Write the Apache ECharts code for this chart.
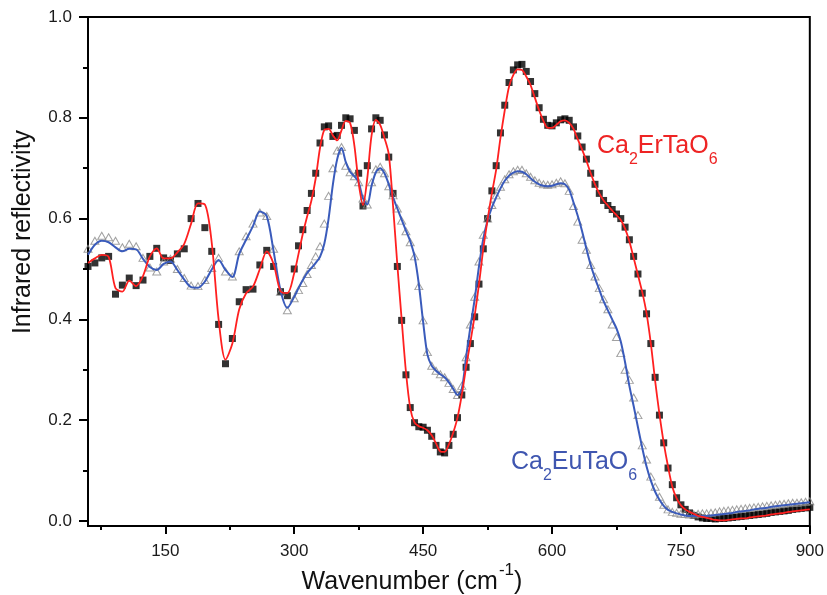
<!DOCTYPE html>
<html><head><meta charset="utf-8">
<script src="https://cdn.jsdelivr.net/npm/echarts@6/dist/echarts.min.js"></script>
<style>html,body{margin:0;padding:0;background:#fff}#c{width:827px;height:595px}</style>
</head><body><div id="c"></div>
<script>
// wavenumber grid (cm-1)
const wn = [
60,68,76,84,92,100,108,116,124,132,
140,148,156,164,172,180,188,196,204,212,
220,228,236,244,252,260,268,276,284,292,
300,305,310,315,320,325,330,335,340,345,350,355,360,365,370,375,380,385,390,395,
400,405,410,415,420,425,430,435,440,445,450,455,460,465,470,475,480,485,490,495,
500,505,510,515,520,525,530,535,540,545,550,555,560,565,570,575,580,585,590,595,
600,605,610,615,620,625,630,635,640,645,650,655,660,665,670,675,680,685,690,695,
700,705,710,715,720,725,730,735,740,745,750,755,760,765,770,775,780,785,790,795,
800,805,810,815,820,825,830,835,840,845,850,855,860,865,870,875,880,885,890,895,
900];

// Ca2ErTaO6 measured (squares)
const erMark = [
0.505,0.512,0.522,0.525,0.450,0.468,0.482,0.467,0.478,0.525,
0.541,0.522,0.517,0.530,0.540,0.600,0.630,0.582,0.535,0.390,
0.312,0.362,0.435,0.459,0.460,0.508,0.537,0.505,0.455,0.447,
0.500,0.546,0.578,0.616,0.650,0.690,0.750,0.782,0.784,0.763,0.765,0.785,0.800,0.798,0.775,0.690,0.625,0.705,0.778,0.800,
0.795,0.766,0.722,0.650,0.505,0.398,0.290,0.225,0.195,0.187,0.186,0.180,0.168,0.150,0.137,0.135,0.150,0.172,0.205,0.250,
0.305,0.352,0.405,0.470,0.540,0.600,0.655,0.705,0.770,0.825,0.870,0.895,0.905,0.906,0.892,0.872,0.848,0.820,0.797,0.785,
0.784,0.790,0.796,0.798,0.795,0.782,0.764,0.742,0.718,0.690,0.668,0.650,0.636,0.626,0.618,0.609,0.600,0.583,0.558,0.525,
0.490,0.452,0.411,0.352,0.285,0.210,0.155,0.105,0.072,0.046,0.032,0.023,0.016,0.011,0.008,0.006,0.005,0.005,0.004,0.005,
0.005,0.006,0.007,0.008,0.009,0.010,0.011,0.012,0.013,0.014,0.015,0.017,0.018,0.019,0.020,0.021,0.023,0.024,0.025,0.026,
0.027];

// Ca2ErTaO6 fit (red line)
const erFit = [
0.512,0.521,0.528,0.524,0.462,0.455,0.477,0.466,0.486,0.525,
0.541,0.521,0.521,0.533,0.550,0.590,0.630,0.628,0.552,0.400,
0.320,0.352,0.420,0.452,0.465,0.500,0.535,0.510,0.456,0.452,
0.492,0.530,0.570,0.604,0.636,0.680,0.740,0.776,0.778,0.765,0.755,0.775,0.794,0.790,0.745,0.670,0.627,0.680,0.765,0.796,
0.786,0.760,0.728,0.625,0.508,0.400,0.296,0.224,0.195,0.188,0.185,0.180,0.170,0.154,0.138,0.137,0.152,0.175,0.205,0.250,
0.305,0.355,0.408,0.470,0.540,0.598,0.650,0.697,0.760,0.815,0.862,0.885,0.896,0.895,0.882,0.865,0.840,0.815,0.794,0.780,
0.780,0.786,0.793,0.795,0.790,0.778,0.757,0.737,0.715,0.690,0.668,0.650,0.636,0.626,0.616,0.607,0.597,0.580,0.555,0.522,
0.488,0.454,0.412,0.352,0.278,0.212,0.155,0.108,0.068,0.045,0.031,0.023,0.018,0.014,0.010,0.008,0.006,0.004,0.002,0.001,
0.001,0.002,0.003,0.004,0.005,0.005,0.007,0.008,0.009,0.010,0.011,0.013,0.014,0.015,0.016,0.018,0.019,0.020,0.021,0.022,
0.023];

// Ca2EuTaO6 measured (triangles)
const euMark = [
0.540,0.556,0.566,0.563,0.556,0.543,0.550,0.545,0.522,0.503,
0.495,0.515,0.520,0.500,0.482,0.467,0.466,0.478,0.502,0.522,
0.495,0.485,0.535,0.565,0.590,0.612,0.605,0.540,0.455,0.418,
0.442,0.458,0.472,0.490,0.508,0.525,0.545,0.590,0.645,0.700,0.735,0.742,0.705,0.692,0.684,0.672,0.640,0.628,0.672,0.698,
0.703,0.690,0.664,0.646,0.620,0.596,0.575,0.553,0.525,0.466,0.398,0.335,0.308,0.298,0.291,0.285,0.274,0.262,0.250,0.268,
0.325,0.390,0.445,0.515,0.568,0.600,0.627,0.646,0.663,0.678,0.688,0.694,0.697,0.697,0.690,0.683,0.676,0.671,0.668,0.667,
0.668,0.671,0.674,0.670,0.655,0.625,0.594,0.558,0.538,0.508,0.485,0.462,0.440,0.420,0.390,0.365,0.333,0.300,0.280,0.245,
0.210,0.150,0.122,0.088,0.068,0.048,0.032,0.023,0.018,0.016,0.014,0.014,0.013,0.013,0.014,0.015,0.015,0.016,0.017,0.019,
0.020,0.021,0.022,0.023,0.024,0.025,0.026,0.027,0.028,0.029,0.030,0.031,0.032,0.033,0.034,0.035,0.036,0.036,0.037,0.038,
0.039];

// Ca2EuTaO6 fit (blue line)
const euFit = [
0.528,0.548,0.556,0.553,0.543,0.535,0.540,0.539,0.520,0.504,
0.498,0.510,0.515,0.498,0.479,0.464,0.463,0.475,0.499,0.518,
0.498,0.484,0.530,0.558,0.585,0.614,0.605,0.535,0.458,0.423,
0.445,0.462,0.478,0.492,0.502,0.512,0.524,0.550,0.600,0.668,0.718,0.740,0.712,0.693,0.684,0.672,0.640,0.628,0.665,0.692,
0.700,0.690,0.668,0.642,0.620,0.598,0.576,0.555,0.525,0.470,0.395,0.330,0.308,0.298,0.291,0.285,0.275,0.262,0.250,0.262,
0.325,0.385,0.440,0.505,0.560,0.596,0.622,0.642,0.660,0.675,0.685,0.691,0.694,0.693,0.688,0.680,0.673,0.668,0.665,0.664,
0.665,0.668,0.670,0.668,0.657,0.632,0.605,0.575,0.540,0.508,0.482,0.459,0.436,0.418,0.400,0.382,0.356,0.315,0.268,0.228,
0.186,0.145,0.108,0.080,0.058,0.042,0.030,0.022,0.018,0.015,0.013,0.011,0.010,0.010,0.010,0.010,0.010,0.011,0.012,0.013,
0.014,0.015,0.016,0.018,0.019,0.020,0.021,0.023,0.024,0.025,0.026,0.028,0.029,0.030,0.031,0.032,0.033,0.034,0.035,0.036,
0.037];

// ticks
const xMajor = [150, 300, 450, 600, 750, 900];
const xMinor = [75, 225, 375, 525, 675, 825];
const yMajor = [0.0, 0.2, 0.4, 0.6, 0.8, 1.0];
const yMinor = [0.1, 0.3, 0.5, 0.7, 0.9];

const xTitle = 'Wavenumber (cm';
const xTitleSup = '-1';
const yTitle = 'Infrared reflectivity';

const FONT = '"Liberation Sans", Arial, sans-serif';
const pairs = (ys) => wn.map((x, i) => [x, ys[i]]);

const chart = echarts.init(document.getElementById('c'), null, {renderer: 'canvas'});
chart.setOption({
  animation: false,
  backgroundColor: '#fff',
  grid: {left: 88, right: 16, top: 17, bottom: 69, show: true, borderColor: '#000', borderWidth: 2, backgroundColor: 'transparent'},
  xAxis: [
    {type: 'value', min: 60, max: 900, position: 'bottom', splitLine: {show: false},
     axisLine: {show: true, onZero: false, lineStyle: {color: '#000', width: 2}},
     axisTick: {show: true, customValues: xMajor, length: 8, lineStyle: {color: '#000', width: 2}},
     axisLabel: {customValues: xMajor, margin: 17, fontSize: 17, fontFamily: FONT, color: '#1a1a1a', formatter: v => String(v)}},
    {type: 'value', min: 60, max: 900, position: 'bottom', splitLine: {show: false},
     axisLine: {show: false, onZero: false},
     axisTick: {show: true, customValues: xMinor, length: 4, lineStyle: {color: '#000', width: 2}},
     axisLabel: {show: false}}
  ],
  yAxis: [
    {type: 'value', min: -0.01, max: 1.0, position: 'left', splitLine: {show: false},
     axisLine: {show: true, onZero: false, lineStyle: {color: '#000', width: 2}},
     axisTick: {show: true, customValues: yMajor, length: 9, lineStyle: {color: '#000', width: 2}},
     axisLabel: {customValues: yMajor, margin: 16, fontSize: 17, fontFamily: FONT, color: '#1a1a1a', formatter: v => v.toFixed(1)}},
    {type: 'value', min: -0.01, max: 1.0, position: 'left', splitLine: {show: false},
     axisLine: {show: false, onZero: false},
     axisTick: {show: true, customValues: yMinor, length: 5, lineStyle: {color: '#000', width: 2}},
     axisLabel: {show: false}}
  ],
  series: [
    {name: 'Ca2ErTaO6 data', type: 'scatter', data: pairs(erMark), symbol: 'rect', symbolSize: 7,
     itemStyle: {color: '#000'}, z: 2},
    {name: 'Ca2EuTaO6 data', type: 'scatter', data: pairs(euMark), symbol: 'triangle', symbolSize: [8, 7],
     itemStyle: {color: 'rgba(255,255,255,0)', borderColor: '#8a8a8a', borderWidth: 1}, z: 3},
    {name: 'Ca2EuTaO6 fit', type: 'line', data: pairs(euFit), showSymbol: false, smooth: 0.3,
     lineStyle: {color: '#3a5bbb', width: 2}, z: 4},
    {name: 'Ca2ErTaO6 fit', type: 'line', data: pairs(erFit), showSymbol: false, smooth: 0.3,
     lineStyle: {color: '#ff2020', width: 1.8}, z: 5}
  ],
  graphic: [
    {type: 'text', x: 23, y: 232, rotation: Math.PI / 2,
     style: {text: yTitle, font: '25px ' + FONT, fill: '#111', align: 'center', verticalAlign: 'middle', textAlign: 'center', textVerticalAlign: 'middle'}},
    {type: 'text', x: 412, y: 562,
     style: {text: '{m|' + xTitle + '}{s|' + xTitleSup + '}{m|)}', align: 'center', verticalAlign: 'top', textAlign: 'center', textVerticalAlign: 'top',
       rich: {m: {fontSize: 25, fontFamily: FONT, fill: '#111', verticalAlign: 'bottom'},
              s: {fontSize: 17, fontFamily: FONT, fill: '#111', verticalAlign: 'bottom', padding: [0, 0, 16, 1]}}}},
    {type: 'text', x: 597, y: 134,
     style: {text: '{m|Ca}{s|2}{m|ErTaO}{s|6}', align: 'left', verticalAlign: 'top', textAlign: 'left', textVerticalAlign: 'top',
       rich: {m: {fontSize: 25, fontFamily: FONT, fill: '#ee2424', verticalAlign: 'top'},
              s: {fontSize: 16, fontFamily: FONT, fill: '#ee2424', verticalAlign: 'top', padding: [18, 0, 0, 0]}}}},
    {type: 'text', x: 511, y: 450,
     style: {text: '{m|Ca}{s|2}{m|EuTaO}{s|6}', align: 'left', verticalAlign: 'top', textAlign: 'left', textVerticalAlign: 'top',
       rich: {m: {fontSize: 25, fontFamily: FONT, fill: '#3f56b0', verticalAlign: 'top'},
              s: {fontSize: 16, fontFamily: FONT, fill: '#3f56b0', verticalAlign: 'top', padding: [18, 0, 0, 0]}}}}
  ]
});
</script>
</body></html>
